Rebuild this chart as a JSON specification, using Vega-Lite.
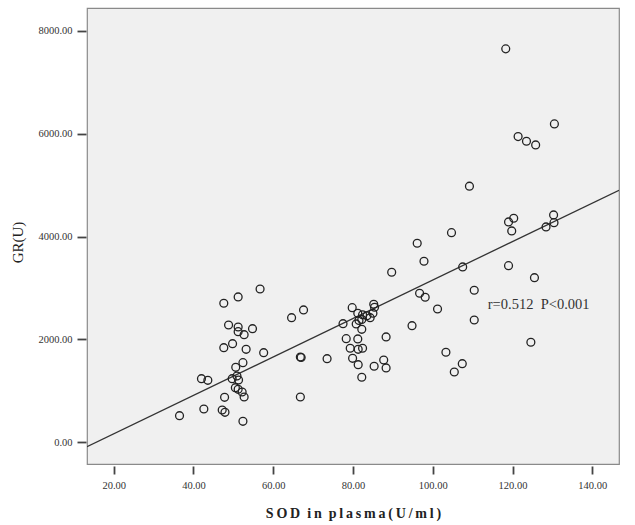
{
  "$schema": "https://vega.github.io/schema/vega-lite/v6.json",
  "width": 532,
  "height": 456,
  "autosize": {"type": "none"},
  "padding": {"left": 87, "top": 8, "right": 16, "bottom": 61},
  "background": "white",
  "config": {
    "view": {"fill": "#f0f0f0", "stroke": "#8a8a8a", "strokeWidth": 1.2},
    "axis": {"grid": false, "domain": false, "labelFont": "Liberation Serif", "titleFont": "Liberation Serif", "labelColor": "#333333", "tickColor": "#444444", "tickWidth": 1.8, "titleColor": "#222222"}
  },
  "datasets": {
    "pts": [
      {"sod": 36.5, "gr": 518}, {"sod": 42.6, "gr": 648}, {"sod": 42.0, "gr": 1237}, {"sod": 43.6, "gr": 1206},
      {"sod": 47.6, "gr": 2704}, {"sod": 51.2, "gr": 2827}, {"sod": 56.7, "gr": 2982}, {"sod": 48.8, "gr": 2282},
      {"sod": 51.2, "gr": 2243}, {"sod": 51.2, "gr": 2152}, {"sod": 52.7, "gr": 2093}, {"sod": 54.8, "gr": 2210},
      {"sod": 49.8, "gr": 1918}, {"sod": 47.6, "gr": 1840}, {"sod": 53.2, "gr": 1809}, {"sod": 57.6, "gr": 1743},
      {"sod": 52.4, "gr": 1549}, {"sod": 50.6, "gr": 1459}, {"sod": 50.9, "gr": 1290}, {"sod": 49.7, "gr": 1237},
      {"sod": 51.3, "gr": 1212}, {"sod": 50.5, "gr": 1062}, {"sod": 51.2, "gr": 1031}, {"sod": 52.2, "gr": 979},
      {"sod": 52.7, "gr": 881}, {"sod": 47.8, "gr": 875}, {"sod": 47.2, "gr": 628}, {"sod": 47.9, "gr": 583},
      {"sod": 52.4, "gr": 408}, {"sod": 64.6, "gr": 2424}, {"sod": 67.6, "gr": 2574}, {"sod": 66.8, "gr": 1659},
      {"sod": 67.0, "gr": 1650}, {"sod": 66.8, "gr": 881},
      {"sod": 97.8, "gr": 3521}, {"sod": 89.7, "gr": 3307}, {"sod": 107.5, "gr": 3411}, {"sod": 119.0, "gr": 3436},
      {"sod": 125.5, "gr": 3202}, {"sod": 110.4, "gr": 2957}, {"sod": 96.7, "gr": 2899}, {"sod": 98.1, "gr": 2821},
      {"sod": 101.2, "gr": 2593}, {"sod": 110.4, "gr": 2379}, {"sod": 94.8, "gr": 2268}, {"sod": 124.6, "gr": 1946},
      {"sod": 103.3, "gr": 1751}, {"sod": 107.4, "gr": 1529}, {"sod": 105.4, "gr": 1368}, {"sod": 88.3, "gr": 2049},
      {"sod": 87.7, "gr": 1601}, {"sod": 88.3, "gr": 1446}, {"sod": 85.3, "gr": 1479}, {"sod": 73.5, "gr": 1626},
      {"sod": 82.2, "gr": 1265}, {"sod": 79.8, "gr": 2619}, {"sod": 77.5, "gr": 2307}, {"sod": 81.2, "gr": 2510},
      {"sod": 80.8, "gr": 2302}, {"sod": 82.4, "gr": 2480}, {"sod": 83.5, "gr": 2460}, {"sod": 85.2, "gr": 2685},
      {"sod": 85.4, "gr": 2626}, {"sod": 85.0, "gr": 2510}, {"sod": 84.3, "gr": 2424}, {"sod": 82.2, "gr": 2198},
      {"sod": 78.3, "gr": 2016}, {"sod": 81.2, "gr": 2010}, {"sod": 79.3, "gr": 1829}, {"sod": 81.3, "gr": 1809},
      {"sod": 82.4, "gr": 1829}, {"sod": 79.9, "gr": 1634}, {"sod": 81.3, "gr": 1510}, {"sod": 81.5, "gr": 2370},
      {"sod": 82.2, "gr": 2390}, {"sod": 96.1, "gr": 3872}, {"sod": 109.2, "gr": 4981}, {"sod": 104.7, "gr": 4078},
      {"sod": 119.0, "gr": 4286}, {"sod": 120.3, "gr": 4358}, {"sod": 119.8, "gr": 4111}, {"sod": 118.3, "gr": 7652},
      {"sod": 130.5, "gr": 6193}, {"sod": 121.4, "gr": 5946}, {"sod": 123.5, "gr": 5856}, {"sod": 125.8, "gr": 5784},
      {"sod": 130.3, "gr": 4422}, {"sod": 130.4, "gr": 4272}, {"sod": 128.4, "gr": 4189}
    ],
    "fit": [{"sod": 13.3, "gr": -86}, {"sod": 146.7, "gr": 4903}],
    "note": [{"sod": 113.8, "gr": 2671, "label": "r=0.512\u00a0\u00a0P<0.001"}]
  },
  "layer": [
    {
      "data": {"name": "fit"},
      "mark": {"type": "line", "color": "#333333", "strokeWidth": 1.3, "clip": true},
      "encoding": {
        "x": {"field": "sod", "type": "quantitative", "scale": {"domain": [13.3, 146.7], "nice": false, "zero": false},
          "axis": {"values": [20, 40, 60, 80, 100, 120, 140], "format": ".2f", "title": "S\u2009O\u2009D\u00a0\u00a0i\u2009n\u00a0\u00a0p\u2009l\u2009a\u2009s\u2009m\u2009a\u2009(\u2009U\u2009/\u2009m\u2009l\u2009)", "labelFontSize": 10.5, "tickSize": 8, "offset": 2, "labelPadding": 6, "titleFontSize": 14, "titleFontWeight": "bold", "titleY": 47, "titleBaseline": "middle"}},
        "y": {"field": "gr", "type": "quantitative", "scale": {"domain": [-422, 8447], "nice": false, "zero": false},
          "axis": {"values": [0, 2000, 4000, 6000, 8000], "format": ".2f", "title": "GR(U)", "labelFontSize": 10.5, "tickSize": 9, "offset": 1, "labelPadding": 5, "titleFontSize": 15, "titleFontWeight": "normal", "titleX": -69, "titleY": 234, "titleBaseline": "middle"}}
      }
    },
    {
      "data": {"name": "pts"},
      "mark": {"type": "point", "shape": "circle", "filled": false, "stroke": "#222222", "strokeWidth": 1.3, "size": 62, "opacity": 1},
      "encoding": {
        "x": {"field": "sod", "type": "quantitative"},
        "y": {"field": "gr", "type": "quantitative"}
      }
    },
    {
      "data": {"name": "note"},
      "mark": {"type": "text", "align": "left", "baseline": "middle", "font": "Liberation Serif", "fontSize": 14.5, "color": "#333333"},
      "encoding": {
        "x": {"field": "sod", "type": "quantitative"},
        "y": {"field": "gr", "type": "quantitative"},
        "text": {"field": "label"}
      }
    }
  ]
}
